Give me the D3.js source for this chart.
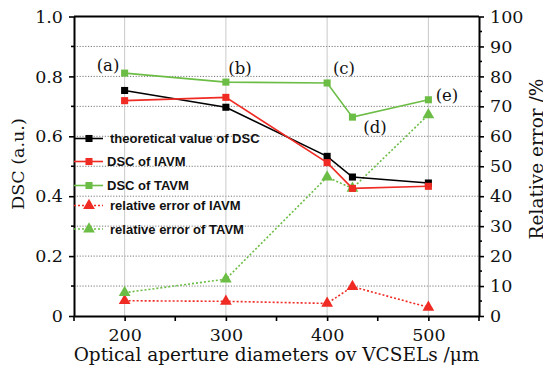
<!doctype html>
<html>
<head>
<meta charset="utf-8"/>
<script src="https://d3js.org/d3.v7.min.js"></script>
<style>
body { margin: 0; background: #fff; }
</style>
</head>
<body>
<div id="chart"></div>
<script>
// data
var diametros = [200, 300, 400, 425, 500];
var teorico = [0.753, 0.697, 0.533, 0.464, 0.444];
var dscIAVM = [0.719, 0.730, 0.512, 0.426, 0.433];
var dscTAVM = [0.811, 0.781, 0.778, 0.664, 0.722];
var erroIAVM = [5.1, 4.9, 4.2, 9.8, 2.9];
var erroTAVM = [7.8, 12.3, 46.4, 42.6, 67.2];
var rotulos = ["(a)", "(b)", "(c)", "(d)", "(e)"];
var legendas = ["theoretical value of DSC", "DSC of IAVM", "DSC of TAVM",
                "relative error of IAVM", "relative error of TAVM"];

var vermelho = "#ef2b24", verde = "#6cbd45";

var W = 543, H = 370;
var m = {l: 74, r: 64, t: 16.5, b: 54};

var svg = d3.select("#chart").append("svg")
  .attr("width", W).attr("height", H);

var x = d3.scaleLinear().domain([150, 550]).range([m.l, W - m.r]);
var yL = d3.scaleLinear().domain([0, 1]).range([H - m.b, m.t]);
var yR = d3.scaleLinear().domain([0, 100]).range([H - m.b, m.t]);

var serif = "DejaVu Serif";

// grade
svg.append("g").selectAll("line").data(d3.range(0.1, 0.95, 0.1)).join("line")
  .attr("x1", m.l).attr("x2", W - m.r)
  .attr("y1", function(d){ return yL(d); }).attr("y2", function(d){ return yL(d); })
  .attr("stroke", "#555").attr("stroke-width", 0.8).attr("stroke-dasharray", "1.2,1.6");
svg.append("g").selectAll("line").data([200, 300, 400, 500]).join("line")
  .attr("x1", function(d){ return x(d); }).attr("x2", function(d){ return x(d); })
  .attr("y1", m.t).attr("y2", H - m.b)
  .attr("stroke", "#bbb").attr("stroke-width", 0.8);

// eixos
function estilo(g) {
  g.selectAll("path").attr("stroke", "#000").attr("stroke-width", 2);
  g.selectAll("line").attr("stroke", "#000").attr("stroke-width", 1.6);
  g.selectAll("text").attr("font-family", serif).attr("font-size", 17.5).attr("fill", "#111");
}
var gx = svg.append("g").attr("transform", "translate(0," + (H - m.b) + ")")
  .call(d3.axisBottom(x).tickValues([200, 300, 400, 500]).tickSize(5).tickSizeOuter(0).tickPadding(8));
gx.call(estilo);
gx.append("g").selectAll("line").data([150, 250, 350, 450, 550]).join("line")
  .attr("x1", function(d){ return x(d); }).attr("x2", function(d){ return x(d); })
  .attr("y1", 0).attr("y2", 5).attr("stroke", "#000").attr("stroke-width", 1.6);

var gyL = svg.append("g").attr("transform", "translate(" + m.l + ",0)")
  .call(d3.axisLeft(yL).tickValues([0, 0.2, 0.4, 0.6, 0.8, 1.0])
    .tickFormat(function(d){ return d === 0 ? "0" : d3.format(".1f")(d); })
    .tickSize(5).tickSizeOuter(0).tickPadding(6));
gyL.call(estilo);
gyL.append("g").selectAll("line").data([0.1, 0.3, 0.5, 0.7, 0.9]).join("line")
  .attr("x1", -3).attr("x2", 0)
  .attr("y1", function(d){ return yL(d); }).attr("y2", function(d){ return yL(d); })
  .attr("stroke", "#000").attr("stroke-width", 1.6);

var gyR = svg.append("g").attr("transform", "translate(" + (W - m.r) + ",0)")
  .call(d3.axisRight(yR).tickValues(d3.range(0, 101, 10)).tickSize(5).tickSizeOuter(0).tickPadding(6));
gyR.call(estilo);
gyR.append("g").selectAll("line").data(d3.range(5, 100, 10)).join("line")
  .attr("x1", 0).attr("x2", 3)
  .attr("y1", function(d){ return yR(d); }).attr("y2", function(d){ return yR(d); })
  .attr("stroke", "#000").attr("stroke-width", 1.6);

// borda superior
svg.append("line").attr("x1", m.l).attr("x2", W - m.r).attr("y1", m.t).attr("y2", m.t)
  .attr("stroke", "#000").attr("stroke-width", 2);

// titulos
svg.append("text").attr("x", (m.l + W - m.r) / 2 + 0).attr("y", 361)
  .attr("text-anchor", "middle").attr("font-family", serif).attr("font-size", 18.5).attr("fill", "#111")
  .text("Optical aperture diameters ov VCSELs /\u03bcm");
svg.append("text").attr("transform", "translate(24,164) rotate(-90)")
  .attr("text-anchor", "middle").attr("font-family", serif).attr("font-size", 17.5).attr("fill", "#111")
  .text("DSC (a.u.)");
svg.append("text").attr("transform", "translate(543,159) rotate(-90)")
  .attr("text-anchor", "middle").attr("font-family", serif).attr("font-size", 18.5).attr("fill", "#111")
  .text("Relative error /%");

// series
var quad = d3.symbol().type(d3.symbolSquare).size(50);
var tri = d3.symbol().type(d3.symbolTriangle).size(60);

function serie(vals, escala, cor, tracejado, simb) {
  var pts = diametros.map(function(d, i){ return [x(d), escala(vals[i])]; });
  svg.append("path").attr("d", d3.line()(pts)).attr("fill", "none")
    .attr("stroke", cor).attr("stroke-width", 1.6)
    .attr("stroke-dasharray", tracejado ? "2,2" : null);
  svg.append("g").selectAll("path").data(pts).join("path")
    .attr("transform", function(p){ return "translate(" + p[0] + "," + p[1] + ")"; })
    .attr("d", simb).attr("fill", cor);
}
serie(erroIAVM, yR, vermelho, true, tri);
serie(erroTAVM, yR, verde, true, tri);
serie(dscTAVM, yL, verde, false, quad);
serie(teorico, yL, "#000", false, quad);
serie(dscIAVM, yL, vermelho, false, quad);

// rotulos (a)-(e)
var posRot = [[108, 71], [240, 74], [344, 74], [375, 133], [447, 101]];
svg.append("g").selectAll("text").data(rotulos).join("text")
  .attr("x", function(d, i){ return posRot[i][0]; }).attr("y", function(d, i){ return posRot[i][1]; })
  .attr("text-anchor", "middle").attr("font-family", serif).attr("font-size", 16.5).attr("fill", "#111")
  .text(function(d){ return d; });

// legenda
var corLeg = ["#000", vermelho, verde, vermelho, verde];
var yLeg = [138.5, 161.5, 185.5, 205.5, 229];
var xTxt = [110, 107, 107, 110, 110];
var leg = svg.append("g").selectAll("g").data(legendas).join("g")
  .attr("transform", function(d, i){ return "translate(0," + yLeg[i] + ")"; });
leg.append("line").attr("x1", 74).attr("x2", 103).attr("y1", 0).attr("y2", 0)
  .attr("stroke", function(d, i){ return corLeg[i]; }).attr("stroke-width", 1.6)
  .attr("stroke-dasharray", function(d, i){ return i > 2 ? "2,2" : null; });
leg.append("path").attr("transform", "translate(89,0)")
  .attr("d", function(d, i){ return i > 2 ? tri() : quad(); })
  .attr("fill", function(d, i){ return corLeg[i]; });
leg.append("text").attr("x", function(d, i){ return xTxt[i]; }).attr("y", 4.5)
  .attr("font-family", "Liberation Sans").attr("font-weight", "bold").attr("font-size", 13)
  .attr("fill", "#111").text(function(d){ return d; });
</script>
</body>
</html>
